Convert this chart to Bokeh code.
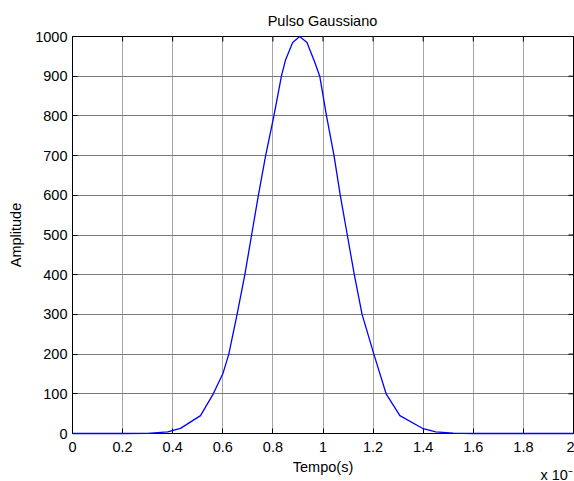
from bokeh.plotting import figure
from bokeh.models import Range1d, FixedTicker, Label, ColumnDataSource
from bokeh.embed import file_html
from bokeh.resources import INLINE

# Data (time in units of 1e-9 s)
tempo = [0.0, 0.2, 0.30, 0.38, 0.431, 0.511, 0.562, 0.601, 0.624, 0.657, 0.688, 0.715,
         0.742, 0.771, 0.804, 0.834, 0.850, 0.879, 0.907, 0.936, 0.966, 0.987,
         1.014, 1.044, 1.069, 1.097, 1.125, 1.156, 1.203, 1.252, 1.307, 1.400,
         1.45, 1.52, 1.6, 2.0]
amplitude = [0, 0, 0.5, 4, 13, 45, 100, 152, 200, 300, 400, 500,
             600, 700, 800, 900, 940, 985, 1000, 985, 937, 900,
             800, 700, 600, 500, 400, 300, 200, 100, 45, 12,
             4, 1, 0, 0]

x_ticks = [0, 0.2, 0.4, 0.6, 0.8, 1.0, 1.2, 1.4, 1.6, 1.8, 2.0]
x_tick_labels = ["0", "0.2", "0.4", "0.6", "0.8", "1", "1.2", "1.4", "1.6", "1.8", "2"]
y_ticks = [0, 100, 200, 300, 400, 500, 600, 700, 800, 900, 1000]
y_tick_labels = ["0", "100", "200", "300", "400", "500", "600", "700", "800", "900", "1000"]

title_text = "Pulso Gaussiano"
x_label = "Tempo(s)"
y_label = "Amplitude"
multiplier = "x 10\u207b\u2079"

FONT = "Liberation Sans"
FS = "14.5px"

X0, X1 = 0, 2
Y0, Y1 = 0, 1000

p = figure(width=574, height=481, output_backend="svg", toolbar_location=None,
           x_range=Range1d(X0, X1), y_range=Range1d(Y0, Y1),
           min_border_left=72, min_border_right=1, min_border_top=36,
           min_border_bottom=48)

p.background_fill_color = "white"
p.border_fill_color = "white"
p.outline_line_color = "black"
p.outline_line_width = 1

src = ColumnDataSource(dict(t=tempo, a=amplitude))

for ax in (p.xaxis[0], p.yaxis[0]):
    ax.major_tick_in = 5
    ax.major_tick_out = 0
    ax.minor_tick_in = 0
    ax.minor_tick_out = 0
    ax.axis_line_color = "black"
    ax.major_tick_line_color = "black"
    ax.major_label_text_font = FONT
    ax.major_label_text_font_size = FS
    ax.major_label_text_color = "black"
    ax.axis_label_text_font = FONT
    ax.axis_label_text_font_size = FS
    ax.axis_label_text_font_style = "normal"
    ax.axis_label_text_color = "black"

p.xaxis[0].ticker = FixedTicker(ticks=x_ticks)
p.xaxis[0].major_label_overrides = dict(zip(x_ticks, x_tick_labels))
p.xaxis[0].axis_label = x_label
p.xaxis[0].major_label_standoff = 8
p.xaxis[0].axis_label_standoff = 4

p.yaxis[0].ticker = FixedTicker(ticks=y_ticks)
p.yaxis[0].major_label_overrides = dict(zip(y_ticks, y_tick_labels))
p.yaxis[0].axis_label = y_label
p.yaxis[0].major_label_standoff = 5
p.yaxis[0].axis_label_standoff = 8

# inward ticks on the top and right edges (box style), derived from tick lists
tick_len_y = (Y1 - Y0) * 5 / 397.0
tick_len_x = (X1 - X0) * 5 / 501.0
p.segment(x0=x_ticks, y0=[Y1] * len(x_ticks), x1=x_ticks, y1=[Y1 - tick_len_y] * len(x_ticks),
          line_color="black", line_width=1, level="overlay")
p.segment(x0=[X1] * len(y_ticks), y0=y_ticks, x1=[X1 - tick_len_x] * len(y_ticks), y1=y_ticks,
          line_color="black", line_width=1, level="overlay")

p.xgrid.ticker = FixedTicker(ticks=x_ticks)
p.ygrid.ticker = FixedTicker(ticks=y_ticks)
p.xgrid.grid_line_color = "#a6a6a6"
p.ygrid.grid_line_color = "#787878"
p.xgrid.grid_line_width = 1
p.ygrid.grid_line_width = 1

p.line("t", "a", source=src, line_color="#0000ff", line_width=1.3, level="overlay")

# title (first panel above the frame) and the axis multiplier (second panel above,
# shifted down to the lower right corner of the canvas)
p.add_layout(Label(x=250, y=16, x_units="screen", y_units="screen", text=title_text,
                   text_font=FONT, text_font_size=FS, text_color="black",
                   text_baseline="middle", text_align="center"), "above")
p.add_layout(Label(x=468, y=-454, x_units="screen", y_units="screen", text=multiplier,
                   text_font=FONT, text_font_size=FS, text_color="black",
                   text_baseline="middle", text_align="left"), "above")

open("out.html", "w").write(file_html(p, INLINE))
